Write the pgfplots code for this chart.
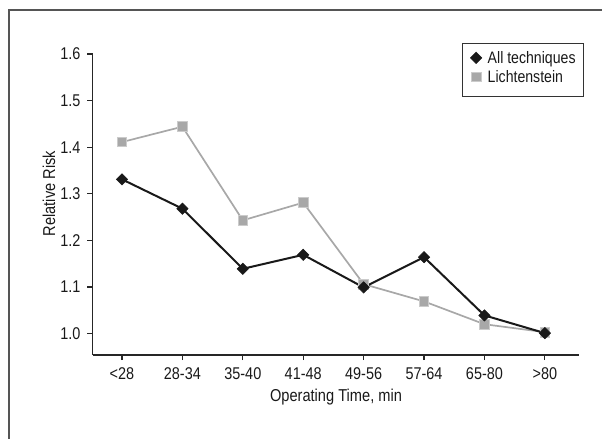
\documentclass[border=0pt]{standalone}
\usepackage{fontspec}
\setmainfont{Liberation Sans}[FakeStretch=0.85]
\usepackage{pgfplots}
\pgfplotsset{compat=1.18}
\definecolor{ltgray}{RGB}{168,168,168}
\definecolor{framec}{RGB}{85,85,85}
\definecolor{txt}{RGB}{25,25,25}
\begin{document}
\begin{tikzpicture}
\path[use as bounding box] (0,0) rectangle (301pt,219.5pt);
\draw[framec, line width=0.8pt] (4.5pt,-1pt) -- (4.5pt,214.5pt) -- (303pt,214.5pt);
\begin{axis}[
  at={(46.35pt,42pt)}, anchor=south west,
  scale only axis, width=243.3pt, height=150.5pt,
  xmin=-0.485, xmax=7.57, ymin=0.954, ymax=1.6,
  clip=false,
  axis x line=bottom, axis y line=left,
  axis line style={-, line width=0.6pt, color=black!85},
  xtick={0,...,7},
  xticklabels={<28,28-34,35-40,41-48,49-56,57-64,65-80,>80},
  ytick={1.0,1.1,1.2,1.3,1.4,1.5,1.6},
  yticklabels={1.0,1.1,1.2,1.3,1.4,1.5,1.6},
  tick align=outside, major tick length=2.6pt,
  tick style={line width=0.6pt, color=black!85},
  /pgf/number format/assume math mode=true,
  ticklabel style={font=\fontsize{8.5}{10}\selectfont, text=txt},
  xlabel={Operating Time, min}, ylabel={Relative Risk},
  label style={font=\fontsize{8.6}{10}\selectfont, text=txt},
  xlabel style={at={(axis description cs:0.5,-0.141)}, anchor=center},
  ylabel style={at={(axis description cs:-0.09,0.536)}, anchor=center},
  reverse legend,
  legend style={at={(axis description cs:0.758,1.0375)}, anchor=north west,
    draw=black!80, line width=0.6pt, font=\fontsize{8.3}{10}\selectfont,
    text=txt, inner xsep=4pt, inner ysep=3.75pt, row sep=0pt,
    nodes={inner sep=0pt, text height=6.5pt, text depth=3pt},
    /tikz/every odd column/.append style={column sep=2.8pt},
    cells={anchor=west}},
  legend image code/.code={%
    \path[draw=none, fill=none] (0pt,-2pt) rectangle (6pt,2pt);
    \draw[#1, overlay] plot coordinates {(3pt,1.25pt)};},
]
\addplot[color=ltgray, line width=0.85pt, mark=square*, mark size=2.4pt,
  mark options={fill=ltgray, draw=ltgray!60!white, line width=0.4pt}]
  coordinates {(0,1.411) (1,1.444) (2,1.243) (3,1.281) (4,1.106) (5,1.069) (6,1.020) (7,1.003)};
\addlegendentry{Lichtenstein}
\addplot[color=black!90, line width=1pt, mark=square*, mark size=2pt,
  mark options={rotate=45, fill=black!90, draw=black!90, line width=0.3pt}]
  coordinates {(0,1.331) (1,1.268) (2,1.139) (3,1.169) (4,1.099) (5,1.164) (6,1.039) (7,1.001)};
\addlegendentry{All techniques}
\end{axis}
\end{tikzpicture}
\end{document}
